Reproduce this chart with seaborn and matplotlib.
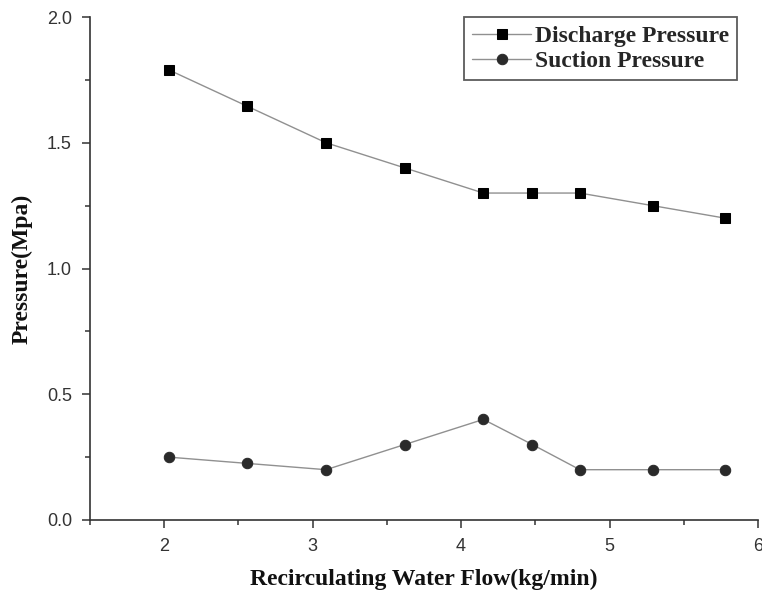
import matplotlib
matplotlib.use("Agg")
import matplotlib.pyplot as plt
from matplotlib.ticker import MultipleLocator
import seaborn as sns
import pandas as pd

# Data
flow = [2.03, 2.56, 3.09, 3.62, 4.15, 4.48, 4.80, 5.29, 5.78]
discharge = [1.79, 1.645, 1.50, 1.40, 1.30, 1.30, 1.30, 1.25, 1.20]
suction = [0.25, 0.225, 0.20, 0.30, 0.40, 0.30, 0.20, 0.20, 0.20]
series_names = ["Discharge Pressure", "Suction Pressure"]
x_ticks = [2, 3, 4, 5, 6]
y_ticks = [0.0, 0.5, 1.0, 1.5, 2.0]

sns.set_style("ticks")
plt.rcParams['font.family'] = ['Liberation Sans', 'DejaVu Sans']

df = pd.DataFrame({"flow": flow, "discharge": discharge, "suction": suction})

fig = plt.figure(figsize=(7.62, 5.98), dpi=100)
ax = fig.add_axes([90/762, 1 - 520/598, (758-90)/762, (520-17)/598])

sns.lineplot(data=df, x="flow", y="discharge", ax=ax, color="#909090", lw=1.0,
             marker="s", markersize=6.5, markerfacecolor="black",
             markeredgecolor="black", label=series_names[0])
sns.lineplot(data=df, x="flow", y="suction", ax=ax, color="#909090", lw=1.0,
             marker="o", markersize=7.5, markerfacecolor="#2a2a2a",
             markeredgecolor="#2a2a2a", label=series_names[1])

ax.set_xlim(1.5, 6.0)
ax.set_ylim(0.0, 2.0)
ax.set_xticks(x_ticks)
ax.set_yticks(y_ticks)
ax.set_yticklabels([f"{v:.1f}" for v in y_ticks])
ax.xaxis.set_minor_locator(MultipleLocator(0.5))
ax.yaxis.set_minor_locator(MultipleLocator(0.25))
ax.tick_params(which="major", direction="out", length=6, width=1.1,
               labelsize=13, colors="#333333", labelcolor="#333333", pad=7)
ax.tick_params(which="minor", direction="out", length=3.5, width=1.1, colors="#333333")

for s in ["top", "right"]:
    ax.spines[s].set_visible(False)
for s in ["left", "bottom"]:
    ax.spines[s].set_linewidth(1.2)
    ax.spines[s].set_color("#333333")

serif = ["Liberation Serif", "DejaVu Serif"]
ax.set_xlabel("Recirculating Water Flow(kg/min)", family=serif,
              fontweight="bold", fontsize=17, color="#111111", labelpad=10)
ax.set_ylabel("Pressure(Mpa)", family=serif,
              fontweight="bold", fontsize=17, color="#111111", labelpad=10)

leg = ax.legend(loc="upper right", bbox_to_anchor=((737-90)/668, 1.0), borderaxespad=0,
                fancybox=False, frameon=True, edgecolor="#333333", handlelength=2.5,
                prop={"family": serif, "weight": "bold", "size": 17},
                labelspacing=0.15, handletextpad=0.15, borderpad=0.35)
leg.get_frame().set_linewidth(1.3)

fig.savefig("out.png", dpi=100)
